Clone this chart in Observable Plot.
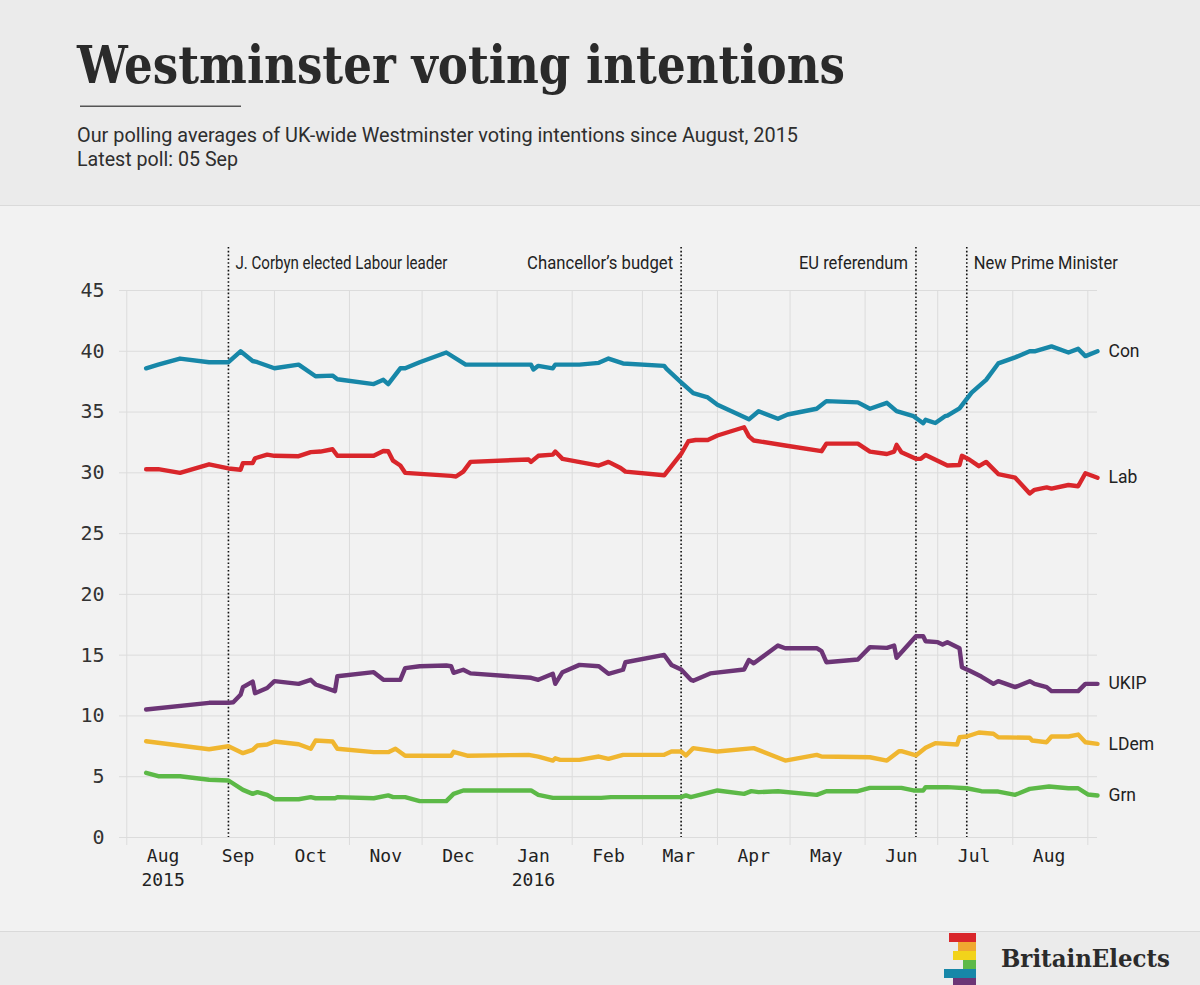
<!DOCTYPE html>
<html>
<head>
<meta charset="utf-8">
<script src="https://cdn.jsdelivr.net/npm/d3@7"></script>
<script src="https://cdn.jsdelivr.net/npm/@observablehq/plot@0.6"></script>
<style>
  html, body { margin: 0; padding: 0; }
  body { width: 1200px; height: 985px; overflow: hidden; background: #f2f2f2; position: relative; font-family: Roboto, sans-serif; }
  #header { position: absolute; left: 0; top: 0; }
  #chart { position: absolute; left: 0; top: 206px; }
  #footer { position: absolute; left: 0; top: 931px; width: 1200px; height: 54px; background: #ebebeb; border-top: 1px solid #d9d9d9; }
  #logo { position: absolute; left: 0; top: 0; }
</style>
</head>
<body>
<svg id="header" width="1200" height="206">
  <rect x="0" y="0" width="1200" height="205" fill="#ebebeb"></rect>
  <rect x="0" y="205" width="1200" height="1" fill="#dadada"></rect>
  <text id="title" x="77" y="83" font-family="'DejaVu Serif', serif" font-weight="bold" font-size="52" fill="#2a2a2a" textLength="768" lengthAdjust="spacingAndGlyphs">Westminster voting intentions</text>
  <rect x="80" y="105.5" width="161" height="1.5" fill="#555"></rect>
  <text x="77" y="142" font-family="Roboto, sans-serif" font-size="19.5" fill="#2e2e2e" textLength="721" lengthAdjust="spacingAndGlyphs">Our polling averages of UK-wide Westminster voting intentions since August, 2015</text>
  <text x="77" y="165.5" font-family="Roboto, sans-serif" font-size="19.5" fill="#2e2e2e" textLength="161" lengthAdjust="spacingAndGlyphs">Latest poll: 05 Sep</text>
</svg>
<div id="chart"></div>
<div id="footer"><svg id="logo" width="1200" height="54"></svg></div>
<script>
// ---------------- DATA ----------------
const parties = ["Con", "Lab", "UKIP", "LDem", "Grn"];
const partyColors = ["#1787a8", "#d9262b", "#6c3576", "#f0b630", "#5cb947"];

const con = [
  ["2015-08-09",38.6],["2015-08-14",38.9],["2015-08-23",39.4],["2015-09-04",39.1],["2015-09-12",39.1],
  ["2015-09-17",40.0],["2015-09-22",39.2],["2015-09-24",39.1],["2015-10-01",38.6],["2015-10-11",38.9],
  ["2015-10-18",37.95],["2015-10-25",38.0],["2015-10-27",37.7],["2015-11-11",37.3],["2015-11-15",37.65],
  ["2015-11-17",37.3],["2015-11-22",38.6],["2015-11-24",38.6],["2015-11-30",39.1],["2015-12-11",39.9],
  ["2015-12-19",38.9],["2016-01-15",38.9],["2016-01-16",38.5],["2016-01-18",38.8],["2016-01-24",38.6],
  ["2016-01-25",38.9],["2016-02-04",38.9],["2016-02-12",39.05],["2016-02-16",39.4],["2016-02-22",39.0],
  ["2016-03-10",38.8],["2016-03-11",38.55],["2016-03-17",37.45],["2016-03-22",36.55],["2016-03-28",36.2],
  ["2016-04-01",35.6],["2016-04-14",34.4],["2016-04-18",35.07],["2016-04-26",34.45],["2016-04-30",34.8],
  ["2016-05-12",35.27],["2016-05-16",35.9],["2016-05-29",35.8],["2016-06-03",35.27],["2016-06-10",35.76],
  ["2016-06-14",35.07],["2016-06-21",34.66],["2016-06-25",34.08],["2016-06-26",34.36],["2016-06-30",34.1],
  ["2016-07-04",34.66],["2016-07-05",34.7],["2016-07-10",35.3],["2016-07-15",36.6],["2016-07-21",37.65],
  ["2016-07-26",39.0],["2016-08-02",39.5],["2016-08-08",40.0],["2016-08-10",40.0],["2016-08-17",40.4],
  ["2016-08-24",39.9],["2016-08-28",40.2],["2016-08-31",39.6],["2016-09-05",40.0]
];

const lab = [
  ["2015-08-09",30.3],["2015-08-14",30.3],["2015-08-23",30.0],["2015-09-04",30.7],["2015-09-12",30.36],
  ["2015-09-17",30.25],["2015-09-18",30.8],["2015-09-22",30.8],["2015-09-23",31.2],["2015-09-28",31.5],
  ["2015-10-01",31.4],["2015-10-11",31.37],["2015-10-16",31.7],["2015-10-20",31.75],["2015-10-25",31.94],
  ["2015-10-27",31.4],["2015-11-11",31.4],["2015-11-15",31.8],["2015-11-17",31.77],["2015-11-19",31.0],
  ["2015-11-22",30.6],["2015-11-24",30.0],["2015-12-13",29.75],["2015-12-15",29.7],["2015-12-18",30.1],
  ["2015-12-21",30.9],["2016-01-14",31.1],["2016-01-15",30.9],["2016-01-18",31.4],["2016-01-24",31.5],
  ["2016-01-25",31.75],["2016-01-28",31.15],["2016-02-12",30.6],["2016-02-16",30.9],["2016-02-21",30.4],
  ["2016-02-23",30.1],["2016-03-10",29.8],["2016-03-17",31.55],["2016-03-20",32.6],["2016-03-23",32.7],
  ["2016-03-28",32.7],["2016-04-01",33.07],["2016-04-12",33.75],["2016-04-14",33.0],["2016-04-16",32.66],
  ["2016-04-29",32.25],["2016-05-14",31.78],["2016-05-16",32.4],["2016-05-29",32.4],["2016-06-03",31.75],
  ["2016-06-10",31.55],["2016-06-13",31.75],["2016-06-14",32.3],["2016-06-16",31.7],["2016-06-22",31.15],
  ["2016-06-24",31.15],["2016-06-26",31.46],["2016-07-05",30.6],["2016-07-10",30.65],["2016-07-11",31.4],
  ["2016-07-14",31.1],["2016-07-18",30.55],["2016-07-21",30.9],["2016-07-26",29.9],["2016-08-02",29.6],
  ["2016-08-08",28.3],["2016-08-10",28.6],["2016-08-15",28.8],["2016-08-17",28.7],["2016-08-24",29.0],
  ["2016-08-28",28.9],["2016-08-31",29.97],["2016-09-05",29.6]
];

const ukip = [
  ["2015-08-09",10.53],["2015-09-04",11.08],["2015-09-12",11.08],["2015-09-14",11.13],["2015-09-17",11.74],
  ["2015-09-18",12.37],["2015-09-22",12.83],["2015-09-23",11.87],["2015-09-28",12.3],["2015-10-01",12.86],
  ["2015-10-11",12.64],["2015-10-16",12.97],["2015-10-18",12.59],["2015-10-26",12.04],["2015-10-27",13.27],
  ["2015-11-11",13.6],["2015-11-15",12.97],["2015-11-22",12.97],["2015-11-24",13.93],["2015-11-30",14.09],
  ["2015-12-11",14.15],["2015-12-13",14.09],["2015-12-14",13.55],["2015-12-18",13.8],["2015-12-21",13.5],
  ["2016-01-15",13.14],["2016-01-18",12.97],["2016-01-24",13.47],["2016-01-25",12.64],["2016-01-28",13.6],
  ["2016-02-04",14.2],["2016-02-12",14.09],["2016-02-16",13.47],["2016-02-22",13.8],["2016-02-23",14.42],
  ["2016-03-10",15.02],["2016-03-13",14.2],["2016-03-17",13.82],["2016-03-21",12.97],["2016-03-22",12.9],
  ["2016-03-29",13.5],["2016-04-12",13.82],["2016-04-14",14.6],["2016-04-16",14.33],["2016-04-26",15.79],
  ["2016-04-29",15.57],["2016-05-12",15.57],["2016-05-14",15.33],["2016-05-16",14.42],["2016-05-29",14.64],
  ["2016-06-03",15.66],["2016-06-10",15.6],["2016-06-13",15.79],["2016-06-14",14.78],["2016-06-22",16.56],
  ["2016-06-25",16.56],["2016-06-26",16.15],["2016-07-01",16.07],["2016-07-03",15.88],["2016-07-05",16.07],
  ["2016-07-10",15.57],["2016-07-11",14.0],["2016-07-14",13.74],["2016-07-19",13.24],["2016-07-24",12.64],
  ["2016-07-26",12.86],["2016-08-02",12.37],["2016-08-08",12.86],["2016-08-10",12.64],["2016-08-15",12.37],
  ["2016-08-17",12.04],["2016-08-28",12.04],["2016-08-31",12.64],["2016-09-05",12.64]
];

const ldem = [
  ["2015-08-09",7.92],["2015-09-04",7.26],["2015-09-12",7.51],["2015-09-18",6.94],["2015-09-22",7.21],
  ["2015-09-24",7.57],["2015-09-28",7.65],["2015-10-01",7.9],["2015-10-11",7.67],["2015-10-16",7.3],
  ["2015-10-18",7.98],["2015-10-25",7.9],["2015-10-27",7.3],["2015-11-11",7.02],["2015-11-17",7.02],
  ["2015-11-20",7.3],["2015-11-24",6.72],["2015-12-13",6.72],["2015-12-14",7.05],["2015-12-20",6.72],
  ["2016-01-14",6.8],["2016-01-18",6.66],["2016-01-24",6.33],["2016-01-25",6.52],["2016-01-27",6.39],
  ["2016-02-04",6.39],["2016-02-12",6.66],["2016-02-16",6.47],["2016-02-22",6.8],["2016-03-10",6.8],
  ["2016-03-13",7.07],["2016-03-17",7.07],["2016-03-19",6.75],["2016-03-22",7.35],["2016-04-01",7.07],
  ["2016-04-16",7.35],["2016-04-29",6.33],["2016-05-12",6.8],["2016-05-14",6.66],["2016-06-03",6.6],
  ["2016-06-10",6.33],["2016-06-15",7.1],["2016-06-16",7.1],["2016-06-22",6.75],["2016-06-26",7.38],
  ["2016-06-30",7.76],["2016-07-09",7.65],["2016-07-10",8.25],["2016-07-13",8.31],["2016-07-18",8.64],
  ["2016-07-24",8.53],["2016-07-26",8.25],["2016-08-08",8.2],["2016-08-09",7.98],["2016-08-15",7.84],
  ["2016-08-17",8.31],["2016-08-24",8.31],["2016-08-28",8.47],["2016-08-31",7.84],["2016-09-05",7.7]
];

const grn = [
  ["2015-08-09",5.32],["2015-08-14",5.04],["2015-08-23",5.04],["2015-09-04",4.75],["2015-09-12",4.69],
  ["2015-09-18",3.92],["2015-09-22",3.59],["2015-09-24",3.73],["2015-09-28",3.51],["2015-10-01",3.15],
  ["2015-10-11",3.15],["2015-10-16",3.32],["2015-10-18",3.23],["2015-10-26",3.23],["2015-10-27",3.32],
  ["2015-11-11",3.23],["2015-11-17",3.46],["2015-11-19",3.32],["2015-11-24",3.32],["2015-11-30",2.99],
  ["2015-12-11",2.99],["2015-12-14",3.59],["2015-12-18",3.87],["2016-01-15",3.87],["2016-01-18",3.51],
  ["2016-01-24",3.26],["2016-02-13",3.26],["2016-02-17",3.32],["2016-03-17",3.32],["2016-03-19",3.46],
  ["2016-03-21",3.32],["2016-04-01",3.87],["2016-04-12",3.59],["2016-04-15",3.81],["2016-04-18",3.73],
  ["2016-04-26",3.81],["2016-05-12",3.51],["2016-05-16",3.81],["2016-05-29",3.81],["2016-06-03",4.08],
  ["2016-06-16",4.08],["2016-06-21",3.87],["2016-06-25",3.87],["2016-06-26",4.14],["2016-07-05",4.14],
  ["2016-07-13",4.05],["2016-07-19",3.81],["2016-07-26",3.78],["2016-08-02",3.51],["2016-08-08",4.0],
  ["2016-08-16",4.2],["2016-08-24",4.05],["2016-08-28",4.05],["2016-09-01",3.54],["2016-09-05",3.46]
];

const eventDates = ["2015-09-12", "2016-03-17", "2016-06-22", "2016-07-13"];
const eventLabels = ["J. Corbyn elected Labour leader", "Chancellor\u2019s budget", "EU referendum", "New Prime Minister"];
const eventSides = ["right", "left", "left", "right"];

const yTicks = [0, 5, 10, 15, 20, 25, 30, 35, 40, 45];
const monthStarts = ["2015-08-01","2015-09-01","2015-10-01","2015-11-01","2015-12-01","2016-01-01","2016-02-01",
  "2016-03-01","2016-04-01","2016-05-01","2016-06-01","2016-07-01","2016-08-01","2016-09-01"];
const monthLabelDates = ["2015-08-16","2015-09-16","2015-10-16","2015-11-16","2015-12-16","2016-01-16","2016-02-16",
  "2016-03-16","2016-04-16","2016-05-16","2016-06-16","2016-07-16","2016-08-16"];
const monthLabels = ["Aug\n2015","Sep","Oct","Nov","Dec","Jan\n2016","Feb","Mar","Apr","May","Jun","Jul","Aug"];

const xDomain = ["2015-07-29", "2016-09-05"];

const logoColors = ["#d9262b", "#f0a830", "#f2d31b", "#5cb947", "#1787a8", "#6c3576"];

// ---------------- BUILD ----------------
const series = [con, lab, ukip, ldem, grn];
const rows = [];
series.forEach((s, i) => s.forEach(([d, v]) => rows.push({date: new Date(d), value: v, party: parties[i]})));
const lastPoints = series.map((s, i) => ({date: new Date(s[s.length - 1][0]), value: s[s.length - 1][1], party: parties[i]}));
const events = eventDates.map((d, i) => ({date: new Date(d), label: eventLabels[i], side: eventSides[i]}));
const months = monthLabelDates.map((d, i) => ({date: new Date(d), label: monthLabels[i]}));

const labelFont = "Roboto, sans-serif";
const eventLabelWidths = {"J. Corbyn elected Labour leader": 212, "Chancellor\u2019s budget": 146, "EU referendum": 109, "New Prime Minister": 144};

const chart = Plot.plot({
  width: 1200,
  height: 700,
  marginTop: 84,
  marginBottom: 69,
  marginLeft: 119,
  marginRight: 103,
  style: {background: "transparent", overflow: "visible"},
  x: {type: "utc", domain: xDomain.map(d => new Date(d)), axis: null},
  y: {domain: [0, 45], axis: null},
  color: {domain: parties, range: partyColors},
  marks: [
    Plot.ruleY(yTicks, {y: d => d, stroke: "#dcdcdc", strokeWidth: 1}),
    Plot.ruleX(monthStarts, {x: d => new Date(d), stroke: "#dcdcdc", strokeWidth: 1, insetBottom: -8}),
    Plot.text(yTicks, {y: d => d, text: d => String(d), frameAnchor: "left", dx: -15, textAnchor: "end",
      fontFamily: "'DejaVu Sans Mono', monospace", fontSize: 20, fill: "#333"}),
    Plot.text(months, {x: "date", text: "label", frameAnchor: "bottom", lineAnchor: "top", dy: 8, lineHeight: 1.3,
      fontFamily: "'DejaVu Sans Mono', monospace", fontSize: 18, fill: "#222"}),
    Plot.ruleX(events, {x: "date", stroke: "#111", strokeWidth: 1.6, strokeDasharray: "1.6,2.2", insetTop: -43}),
    Plot.text(events.filter(e => e.side === "right"), {x: "date", text: "label", frameAnchor: "top", lineAnchor: "middle",
      dy: -27, dx: 7, textAnchor: "start", fontFamily: labelFont, fontSize: 17.5, fill: "#222"}),
    Plot.text(events.filter(e => e.side === "left"), {x: "date", text: "label", frameAnchor: "top", lineAnchor: "middle",
      dy: -27, dx: -8, textAnchor: "end", fontFamily: labelFont, fontSize: 17.5, fill: "#222"}),
    Plot.line(rows, {x: "date", y: "value", z: "party", stroke: "party", strokeWidth: 4.4,
      strokeLinejoin: "round", strokeLinecap: "round"}),
    Plot.text(lastPoints, {x: "date", y: "value", text: "party", dx: 11, textAnchor: "start",
      fontFamily: labelFont, fontSize: 17.5, fill: "#222"})
  ]
});

// condensed look for event labels
chart.querySelectorAll("text").forEach(t => {
  const w = eventLabelWidths[t.textContent];
  if (w) { t.setAttribute("textLength", w); t.setAttribute("lengthAdjust", "spacingAndGlyphs"); }
});
document.getElementById("chart").appendChild(chart);

// ---------------- FOOTER LOGO ----------------
const logo = d3.select("#logo");
const barLefts = [949, 958, 953, 963, 944, 953];
logoColors.forEach((c, i) => {
  logo.append("rect").attr("x", barLefts[i]).attr("y", 1 + i * 9).attr("width", 976 - barLefts[i]).attr("height", 9).attr("fill", c);
});
logo.append("text").attr("x", 1001).attr("y", 35).attr("font-family", "'DejaVu Serif', serif").attr("font-weight", "bold")
  .attr("font-size", 24).attr("fill", "#2b2b2b").attr("textLength", 169).attr("lengthAdjust", "spacingAndGlyphs").text("BritainElects");
</script>
</body>
</html>
